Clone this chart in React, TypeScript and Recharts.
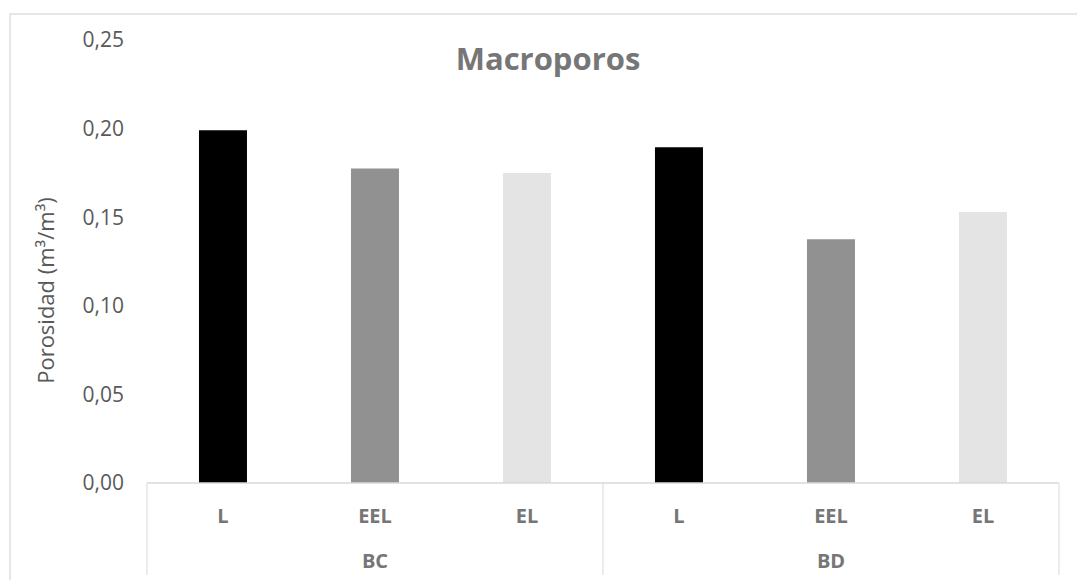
import React from "react";
import { BarChart, Bar, XAxis, YAxis, Cell, Label } from "recharts";

const groups = ["BC", "BC", "BC", "BD", "BD", "BD"];
const categories = ["L", "EEL", "EL", "L", "EEL", "EL"];
const values = [0.199, 0.1775, 0.175, 0.1895, 0.1375, 0.153];
const barColors = ["#000000", "#919191", "#e4e4e4", "#000000", "#919191", "#e4e4e4"];
const yTicks = [0, 0.05, 0.1, 0.15, 0.2, 0.25];
const title = "Macroporos";
const yLabel = "Porosidad (m³/m³)";

const data = categories.map((c, i) => ({ cat: c, group: groups[i], v: values[i] }));

const FONT = "'Open Sans', 'Noto Sans', sans-serif";
const LINE = "#d9d9d9";

const CatTick = (props: any) => {
  const { x, y, payload, index, width, visibleTicksCount } = props;
  const n = visibleTicksCount || data.length;
  const bw = (width || 912) / n;
  const items: any[] = [];
  if (index === 0 || data[index].group !== data[index - 1].group) {
    items.push(<line key="l" x1={x - bw / 2} x2={x - bw / 2} y1={y} y2={y + 92} stroke={LINE} strokeWidth={1} />);
  }
  if (index === n - 1) {
    items.push(<line key="r" x1={x + bw / 2} x2={x + bw / 2} y1={y} y2={y + 92} stroke={LINE} strokeWidth={1} />);
  }
  return (
    <g>
      {items}
      <text x={x} y={y + 32} textAnchor="middle" dominantBaseline="central" fontFamily={FONT} fontSize={20} fontWeight={700} fill="#767676">
        {payload.value}
      </text>
    </g>
  );
};

const GroupTick = (props: any) => {
  const { x, y, payload } = props;
  return (
    <text x={x} y={y + 31} textAnchor="middle" dominantBaseline="central" fontFamily={FONT} fontSize={20} fontWeight={700} fill="#767676">
      {payload.value}
    </text>
  );
};

const YLabelContent = (props: any) => {
  const vb = props.viewBox || { x: 0, y: 0, width: 0, height: 0 };
  const cx = vb.x + 37;
  const cy = vb.y + vb.height / 2 + 29;
  return (
    <text x={cx} y={cy} transform={`rotate(-90, ${cx}, ${cy})`} textAnchor="middle" dominantBaseline="central" fontFamily={FONT} fontSize={22} fill="#595959">
      {yLabel}
    </text>
  );
};

export default function App() {
  return (
    <div style={{ position: "absolute", left: 0, top: 0, width: 1077, height: 580, overflow: "hidden" }}>
      <div
        style={{
          position: "absolute",
          left: 9,
          top: 13,
          width: 1068,
          height: 567,
          boxSizing: "border-box",
          borderTop: `2px solid #e6e6e6`,
          borderLeft: `2px solid #e6e6e6`,
        }}
      />
      <div
        style={{
          position: "absolute",
          left: 0,
          width: 1096,
          top: 38,
          textAlign: "center",
          fontFamily: FONT,
          fontSize: 31,
          fontWeight: 700,
          color: "#767676",
          lineHeight: "40px",
        }}
      >
        {title}
      </div>
      <div style={{ position: "absolute", left: 8, top: 8 }}>
        <BarChart width={1069} height={572} data={data} margin={{ top: 32, right: 18, bottom: 0, left: 0 }} barCategoryGap="34.2%">
          <XAxis
            dataKey="cat"
            xAxisId="cat"
            height={46}
            interval={0}
            tickLine={false}
            tickSize={0}
            tickMargin={0}
            axisLine={{ stroke: LINE, strokeWidth: 1.5 }}
            tick={<CatTick />}
          />
          <XAxis
            dataKey="group"
            xAxisId="grp"
            height={51}
            interval={0}
            allowDuplicatedCategory={false}
            tickLine={false}
            tickSize={0}
            tickMargin={0}
            axisLine={false}
            tick={<GroupTick />}
          />
          <YAxis
            width={139}
            domain={[0, 0.25]}
            ticks={yTicks}
            interval={0}
            axisLine={false}
            tickLine={false}
            tickSize={6}
            tickMargin={17}
            tickFormatter={(v: number) => v.toFixed(2).replace(".", ",")}
            tick={{ fontFamily: FONT, fontSize: 21, fill: "#595959" }}
          >
            <Label content={<YLabelContent />} />
          </YAxis>
          <Bar dataKey="v" xAxisId="cat" isAnimationActive={false}>
            {data.map((d, i) => (
              <Cell key={i} fill={barColors[i]} />
            ))}
          </Bar>
        </BarChart>
      </div>
    </div>
  );
}
